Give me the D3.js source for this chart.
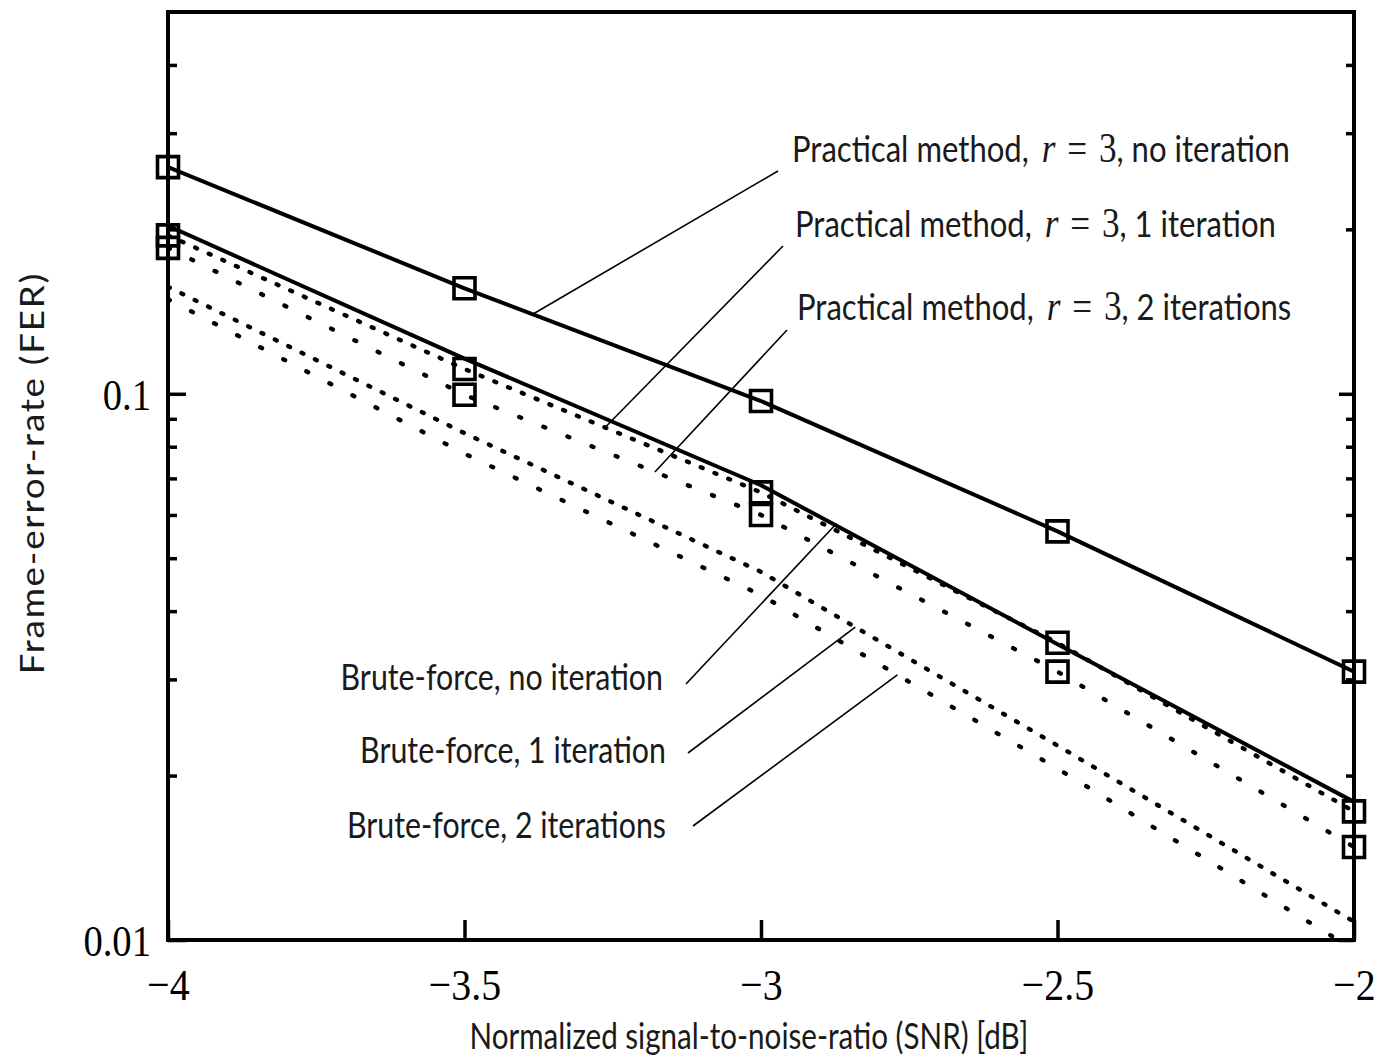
<!DOCTYPE html>
<html>
<head>
<meta charset="utf-8">
<script src="https://cdn.jsdelivr.net/npm/d3@7"></script>
<style>
  html, body { margin: 0; padding: 0; background: #fff; }
  svg { display: block; }
</style>
</head>
<body>
<svg id="chart" width="1378" height="1064"></svg>
<script>
// SNR grid (dB) shared by every curve
const snr = [-4, -3.5, -3, -2.5, -2];

// Frame-error-rate per curve
const practicalNoIter = [0.26, 0.156, 0.097, 0.056, 0.031];
const practical1Iter  = [0.195, 0.111, 0.066, 0.035, 0.0172];
const practical2Iter  = [0.185, 0.0996, 0.060, 0.031, 0.0148];
const bruteNoIter     = [0.203, 0.116, 0.068, 0.0348, 0.0179];
const brute1Iter      = [0.157, 0.0847, 0.0472, 0.0227, 0.0108];
const brute2Iter      = [0.149, 0.0777, 0.0428, 0.0206, 0.0096];

// Axis ticks
const xTicks = [-4, -3.5, -3, -2.5, -2];
const xTickLabels = ["\u22124", "\u22123.5", "\u22123", "\u22122.5", "\u22122"];
const yMajorTicks = [0.01, 0.1];
const yMajorLabels = ["0.01", "0.1"];
const yMinorTicks = [0.02, 0.03, 0.04, 0.05, 0.06, 0.07, 0.08, 0.09, 0.2, 0.3, 0.4];

// Curve labels: text pieces (sans text / math), SNR where the leader touches the curve
const curveLabels = [
  { values: practicalNoIter, pre: "Practical method, ", post: ", no iteration", at: -3.385 },
  { values: practical1Iter,  pre: "Practical method, ", post: ", 1 iteration",  at: -3.263 },
  { values: practical2Iter,  pre: "Practical method, ", post: ", 2 iterations", at: -3.179 },
  { values: bruteNoIter,     text: "Brute-force, no iteration", at: -2.875 },
  { values: brute1Iter,      text: "Brute-force, 1 iteration",  at: -2.841 },
  { values: brute2Iter,      text: "Brute-force, 2 iterations", at: -2.770 }
];

const series = [
  { values: practicalNoIter, dash: null,     marker: true },
  { values: practical1Iter,  dash: "dense",  marker: true },
  { values: practical2Iter,  dash: "sparse", marker: true },
  { values: bruteNoIter,     dash: null,     marker: false },
  { values: brute1Iter,      dash: "dense",  marker: false },
  { values: brute2Iter,      dash: "sparse", marker: false }
];

// ---- layout ----
const plot = { left: 168, right: 1354, top: 12, bottom: 940 };
const SANS = "Lato, 'Open Sans', sans-serif";
const SERIF = "'Liberation Serif', 'DejaVu Serif', serif";
const SX = 0.82;   // horizontal squeeze of the sans lettering
const INK = "#1a1a1a";

const svg = d3.select("#chart");

const x = d3.scaleLinear().domain([-4, -2]).range([plot.left, plot.right]);
const y = d3.scaleLog().domain([0.01, 0.5]).range([plot.bottom, plot.top]);

svg.append("defs").append("clipPath").attr("id", "plot-clip")
  .append("rect")
  .attr("x", plot.left).attr("y", plot.top)
  .attr("width", plot.right - plot.left).attr("height", plot.bottom - plot.top);

// ---- axes (inward ticks) ----
function styleAxis(g) {
  g.select(".domain").remove();
  g.selectAll(".tick line").attr("stroke", "#000").attr("stroke-width", 3.5);
}

svg.append("g")
  .attr("transform", `translate(0,${plot.bottom})`)
  .call(d3.axisBottom(x).tickValues(xTicks).tickSize(-20).tickFormat((d, i) => xTickLabels[i]))
  .call(styleAxis)
  .call(g => g.selectAll(".tick text")
    .attr("y", 0).attr("dy", null)
    .attr("transform", "translate(0,45) scale(0.95,1.08)")
    .attr("dominant-baseline", "central")
    .attr("font-family", SERIF).attr("font-size", 42).attr("fill", "#000"));

// left minor / major
svg.append("g")
  .attr("transform", `translate(${plot.left},0)`)
  .call(d3.axisLeft(y).tickValues(yMinorTicks).tickSize(-9).tickFormat(""))
  .call(styleAxis);
svg.append("g")
  .attr("transform", `translate(${plot.left},0)`)
  .call(d3.axisLeft(y).tickValues(yMajorTicks).tickSize(-18)
    .tickFormat((d, i) => yMajorLabels[i]))
  .call(styleAxis)
  .call(g => g.selectAll(".tick text")
    .attr("x", null).attr("dy", null)
    .attr("transform", "translate(-17,0) scale(0.92,1.08)")
    .attr("dominant-baseline", "central")
    .attr("font-family", SERIF).attr("font-size", 42).attr("fill", "#000"));

// right minor / major
svg.append("g")
  .attr("transform", `translate(${plot.right},0)`)
  .call(d3.axisRight(y).tickValues(yMinorTicks).tickSize(-8).tickFormat(""))
  .call(styleAxis);
svg.append("g")
  .attr("transform", `translate(${plot.right},0)`)
  .call(d3.axisRight(y).tickValues(yMajorTicks).tickSize(-15).tickFormat(""))
  .call(styleAxis);

// ---- curves ----
const line = d3.line()
  .x((d, i) => x(snr[i]))
  .y(d => y(d));

const curves = svg.append("g").attr("clip-path", "url(#plot-clip)");
const dashes = { dense: "2 12.9", sparse: "2 24" };

series.forEach(s => {
  const p = curves.append("path")
    .datum(s.values)
    .attr("d", line)
    .attr("fill", "none")
    .attr("stroke", "#000");
  if (s.dash) {
    p.attr("stroke-width", 4.4)
     .attr("stroke-linecap", "round")
     .attr("stroke-dasharray", dashes[s.dash]);
  } else {
    p.attr("stroke-width", 4).attr("stroke-linejoin", "round");
  }
});

// ---- frame ----
svg.append("rect")
  .attr("x", plot.left).attr("y", plot.top)
  .attr("width", plot.right - plot.left).attr("height", plot.bottom - plot.top)
  .attr("fill", "none").attr("stroke", "#000").attr("stroke-width", 4);

// ---- square markers ----
const square = d3.symbol().type(d3.symbolSquare).size(441);
series.filter(s => s.marker).forEach(s => {
  svg.append("g").selectAll("path")
    .data(s.values)
    .join("path")
    .attr("transform", (d, i) => `translate(${x(snr[i])},${y(d)})`)
    .attr("d", square)
    .attr("fill", "none")
    .attr("stroke", "#000")
    .attr("stroke-width", 3.6);
});

// ---- curve labels with leader lines ----
function valueAt(values, s) {
  let i = 0;
  while (i < snr.length - 2 && s > snr[i + 1]) i++;
  const t = (s - snr[i]) / (snr[i + 1] - snr[i]);
  return Math.pow(10, Math.log10(values[i]) + t * (Math.log10(values[i + 1]) - Math.log10(values[i])));
}

// text anchor points and leader starting points (pixels)
const labelPlace = [
  { tx: 792, ty: 147, anchor: "start", lx: 778, ly: 171 },
  { tx: 795, ty: 222, anchor: "start", lx: 783, ly: 246 },
  { tx: 797, ty: 305, anchor: "start", lx: 787, ly: 330 },
  { tx: 663, ty: 676, anchor: "end",   lx: 686, ly: 684 },
  { tx: 666, ty: 749, anchor: "end",   lx: 688, ly: 753 },
  { tx: 666, ty: 824, anchor: "end",   lx: 693, ly: 826 }
];

const ann = svg.append("g");
curveLabels.forEach((c, k) => {
  const pl = labelPlace[k];
  ann.append("line")
    .attr("x1", pl.lx).attr("y1", pl.ly)
    .attr("x2", x(c.at)).attr("y2", y(valueAt(c.values, c.at)))
    .attr("stroke", "#000").attr("stroke-width", 1.6);

  const t = ann.append("text")
    .attr("transform", `translate(${pl.tx},${pl.ty}) scale(${c.text ? SX : 0.84},1)`)
    .attr("text-anchor", pl.anchor)
    .attr("dominant-baseline", "central")
    .attr("font-family", SANS)
    .attr("font-size", 37)
    .attr("fill", INK);
  if (c.text) {
    t.text(c.text);
  } else {
    t.append("tspan").text(c.pre);
    t.append("tspan").attr("dx", 6).attr("font-family", SERIF).attr("font-style", "italic").attr("font-size", 42).text("r");
    t.append("tspan").attr("dx", 14).attr("font-family", SERIF).attr("font-size", 42).text("=");
    t.append("tspan").attr("dx", 14).attr("font-family", SERIF).attr("font-size", 42).text("3");
    t.append("tspan").text(c.post);
  }
});

// ---- axis titles ----
svg.append("text")
  .attr("transform", "translate(749,1035) scale(0.8,1)")
  .attr("text-anchor", "middle")
  .attr("dominant-baseline", "central")
  .attr("font-family", SANS).attr("font-size", 37).attr("fill", INK)
  .text("Normalized signal-to-noise-ratio (SNR) [dB]");

svg.append("text")
  .attr("transform", "translate(31,473) rotate(-90) scale(1.15,1)")
  .attr("text-anchor", "middle")
  .attr("dominant-baseline", "central")
  .attr("font-family", SANS).attr("font-size", 32).attr("fill", INK)
  .attr("letter-spacing", 1.5)
  .text("Frame-error-rate (FER)");
</script>
</body>
</html>
